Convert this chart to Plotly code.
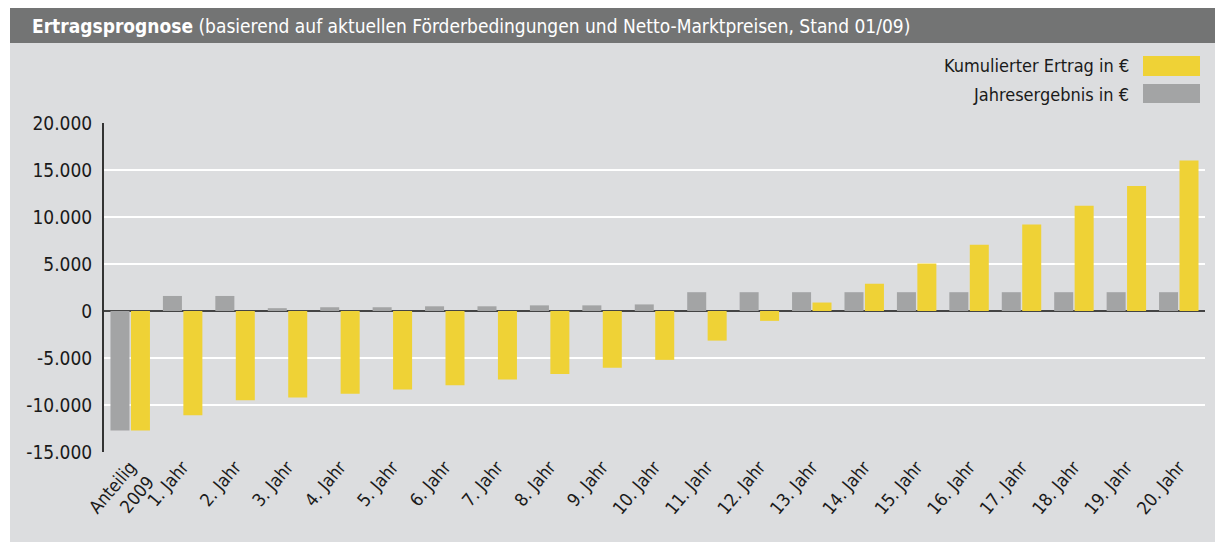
import plotly.graph_objects as go

categories = ["Anteilig<br>2009"] + [f"{i}. Jahr" for i in range(1, 21)]
jahresergebnis = [-12700, 1600, 1600, 300, 400, 400, 500, 500, 600, 600, 700,
                  2000, 2000, 2000, 2000, 2000, 2000, 2000, 2000, 2000, 2000]
kumuliert = [-12700, -11100, -9500, -9200, -8800, -8350, -7900, -7300, -6700, -6050, -5200,
             -3150, -1050, 900, 2900, 5050, 7050, 9200, 11200, 13300, 16000]
y_ticks = [-15000, -10000, -5000, 0, 5000, 10000, 15000, 20000]
y_ticktext = [f"{v:,}".replace(",", ".") for v in y_ticks]

title_bold = "Ertragsprognose"
title_rest = " (basierend auf aktuellen Förderbedingungen und Netto-Marktpreisen, Stand 01/09)"
legend_names = ["Kumulierter Ertrag in €", "Jahresergebnis in €"]

YELLOW = "#efd236"
GREY = "#a3a4a5"
BG = "#dcdddf"
BAR = "#737474"
FONT = "Liberation Sans Narrow, DejaVu Sans Condensed, Arial Narrow, sans-serif"

W, H = 1215, 542
ML, MR, MT, MB = 104, 10, 123, 90
PW, PH = W - ML - MR, H - MT - MB


def px(x):
    return (x - ML) / PW


def py(y):
    return (H - MB - y) / PH


fig = go.Figure()
fig.add_trace(go.Bar(x=categories, y=jahresergebnis, name=legend_names[1],
                     marker=dict(color=GREY, line=dict(width=0)), showlegend=False))
fig.add_trace(go.Bar(x=categories, y=kumuliert, name=legend_names[0],
                     marker=dict(color=YELLOW, line=dict(width=0)), showlegend=False))

shapes = [
    dict(type="rect", xref="paper", yref="paper", x0=px(10), x1=px(W + 5), y0=py(H + 5), y1=py(8),
         fillcolor=BG, line=dict(width=0), layer="below"),
    dict(type="rect", xref="paper", yref="paper", x0=px(10), x1=px(W + 5), y0=py(43), y1=py(8),
         fillcolor=BAR, line=dict(width=0), layer="below"),
    dict(type="rect", xref="paper", yref="paper", x0=px(1143), x1=px(1200), y0=py(76), y1=py(56),
         fillcolor=YELLOW, line=dict(width=0)),
    dict(type="rect", xref="paper", yref="paper", x0=px(1143), x1=px(1200), y0=py(103), y1=py(84),
         fillcolor=GREY, line=dict(width=0)),
]

annotations = [
    dict(xref="paper", yref="paper", x=px(30), y=py(26), xanchor="left", yanchor="middle",
         text=f"<b>{title_bold}</b>{title_rest}", showarrow=False,
         font=dict(family=FONT, size=19, color="white")),
    dict(xref="paper", yref="paper", x=px(1131), y=py(66), xanchor="right", yanchor="middle",
         text=legend_names[0], showarrow=False, font=dict(family=FONT, size=18, color="#1a1a1a")),
    dict(xref="paper", yref="paper", x=px(1131), y=py(94), xanchor="right", yanchor="middle",
         text=legend_names[1], showarrow=False, font=dict(family=FONT, size=18, color="#1a1a1a")),
]

fig.update_layout(
    width=W, height=H,
    margin=dict(l=ML, r=MR, t=MT, b=MB, autoexpand=False),
    paper_bgcolor="white",
    plot_bgcolor="rgba(0,0,0,0)",
    barmode="group", bargap=0.22, bargroupgap=0.07,
    font=dict(family=FONT, size=17, color="#1a1a1a"),
    shapes=shapes, annotations=annotations,
    xaxis=dict(type="category", tickangle=-50, showgrid=False, showline=False, ticks="",
               tickfont=dict(size=18), automargin=False),
    yaxis=dict(range=[-15000, 20000], tickvals=y_ticks, ticktext=y_ticktext,
               showgrid=True, gridcolor="white", gridwidth=1.5,
               zeroline=True, zerolinecolor="#444444", zerolinewidth=2,
               showline=True, linecolor="#333333", linewidth=2,
               ticks="", ticklabelstandoff=6, tickfont=dict(size=19), automargin=False),
    showlegend=False,
)

fig.write_html(
    "out.html",
    config={"displayModeBar": False},
    post_script="document.body.style.margin='0';document.body.style.overflow='hidden';",
)
